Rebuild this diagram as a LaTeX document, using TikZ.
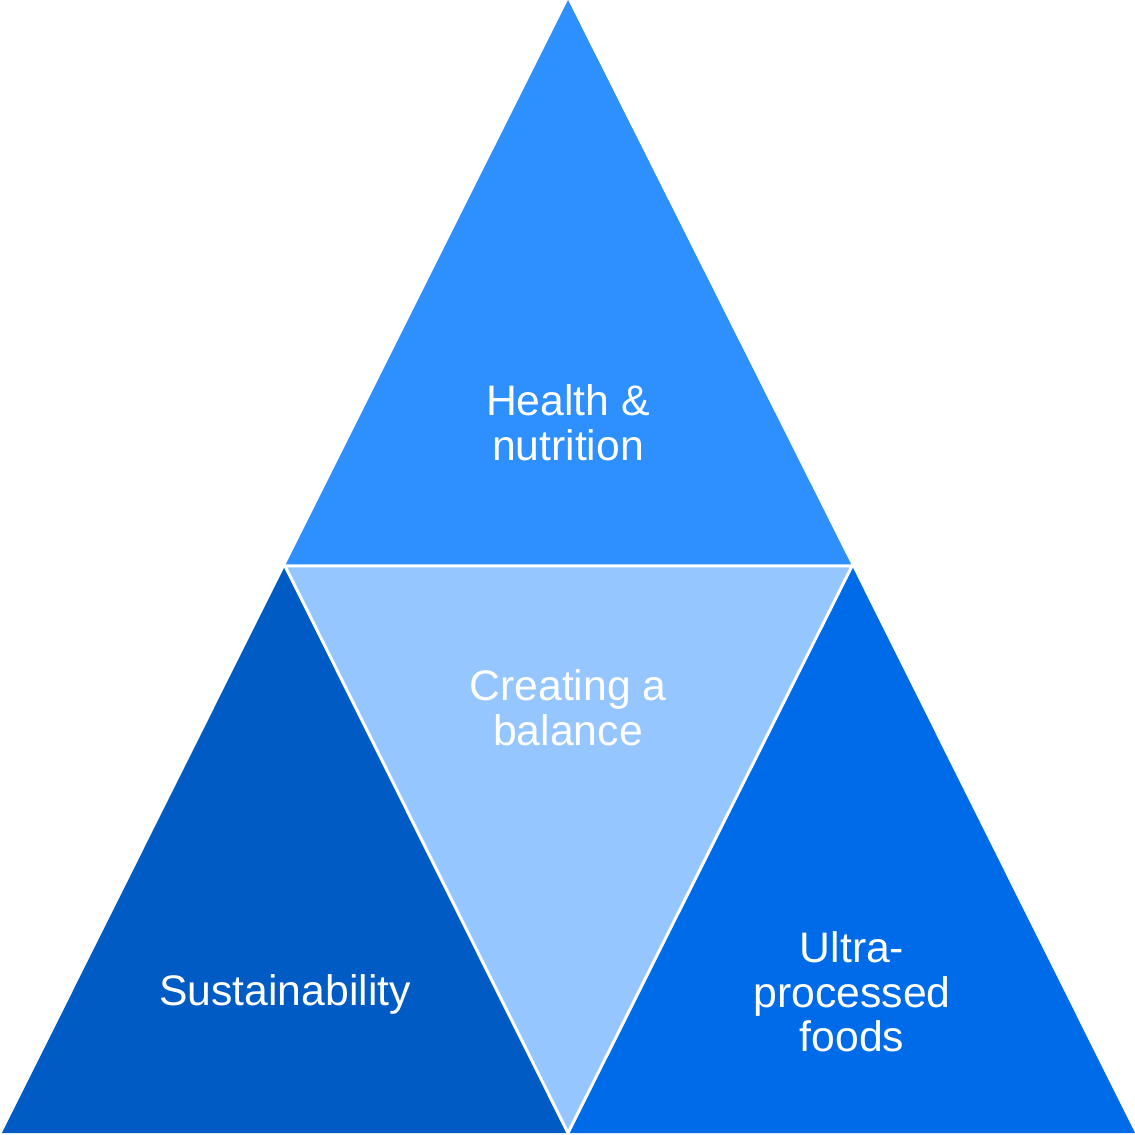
\documentclass[tikz,border=0pt]{standalone}
\usepackage{fontspec}
\setmainfont{Liberation Sans}
\usepackage{xcolor}
\usepackage{tikz}

\definecolor{topblue}{RGB}{46,143,255}
\definecolor{midblue}{RGB}{150,198,255}
\definecolor{leftblue}{RGB}{0,91,196}
\definecolor{rightblue}{RGB}{0,107,233}

\begin{document}
\begin{tikzpicture}[scale=1,
  word/.style={text=white, align=center, font=\fontsize{24.3}{25.4}\selectfont}]
\useasboundingbox (0,0) rectangle (22.7,22.7);
% corners of the big triangle and the midpoints of its sides
\coordinate (apex) at (11.36,22.7);
\coordinate (bl) at (0.04,0.04);
\coordinate (br) at (22.7,0.04);
\coordinate (ml) at (5.70,11.38);
\coordinate (mr) at (17.04,11.38);
\coordinate (mb) at (11.36,0.04);
\path [fill=topblue] (apex) -- (ml) -- (mr) -- cycle;
\path [fill=leftblue] (ml) -- (bl) -- (mb) -- cycle;
\path [fill=rightblue] (mr) -- (mb) -- (br) -- cycle;
\path [fill=midblue] (ml) -- (mr) -- (mb) -- cycle;
% white seams round the middle piece
\draw [white, line width=1.7pt, line join=miter] (ml) -- (mr) -- (mb) -- cycle;
\node [word] (health) at (11.36,14.24) {Health \&\\nutrition};
\node [word] (balance) at (11.36,8.54) {Creating a\\balance};
\node [word] (sustain) at (5.70,2.82) {Sustainability};
\node [word] (upf) at (17.04,2.86) {Ultra-\\processed\\foods};
\end{tikzpicture}
\end{document}
